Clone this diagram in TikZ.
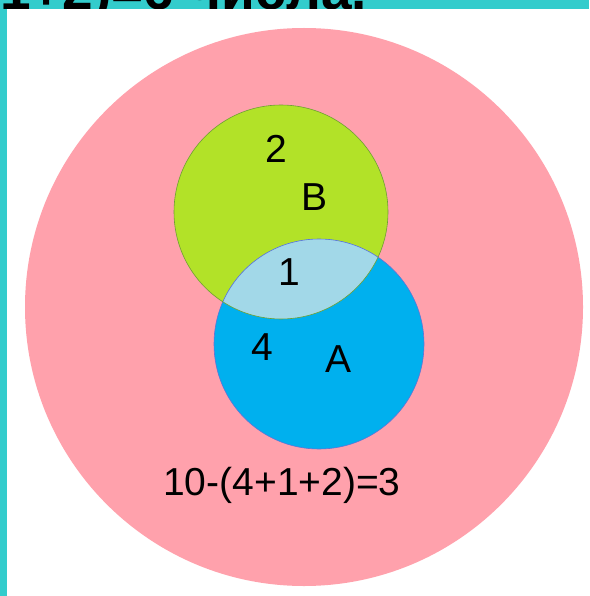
\documentclass[tikz,border=0pt]{standalone}
\usepackage{fontspec}
\setmainfont{Liberation Sans}
\usepackage{tikz}
\usetikzlibrary{positioning}

\definecolor{frameteal}{RGB}{51,204,204}
\definecolor{setU}{RGB}{255,161,172}
\definecolor{setB}{RGB}{178,226,40}
\definecolor{setA}{RGB}{0,176,238}
\definecolor{setAB}{RGB}{162,216,232}
\definecolor{lineB}{RGB}{110,160,50}
\definecolor{lineA}{RGB}{95,115,215}

\begin{document}
\begin{tikzpicture}[x=1pt, y=-1pt,
  lbl/.style={inner sep=0pt, anchor=base, font=\fontsize{39}{42}\selectfont},
  ring/.style={line width=0.6pt, draw=#1}]
  \useasboundingbox (0,0) rectangle (589,596);
  \clip (0,0) rectangle (589,596);
  % frame and cut-off title
  \fill[frameteal] (0,0) rectangle (589,596);
  \node[inner sep=0pt, anchor=base west, font=\fontsize{55}{60}\selectfont\bfseries] (title) at (0,9.5) {1+2)=6 числа.};
  \fill[white] (7,9) rectangle (589,596);
  % sets
  \coordinate (cU) at (304,307);
  \coordinate (cB) at (281,212);
  \coordinate (cA) at (319,344);
  \fill[setU] (cU) circle (279pt);
  \fill[setB] (cB) circle (107pt);
  \fill[setA] (cA) circle (105pt);
  \begin{scope}
    \clip (cB) circle (107pt);
    \fill[setAB] (cA) circle (105pt);
  \end{scope}
  \draw[ring=lineA] (cA) circle (105pt);
  \draw[ring=lineB] (cB) circle (107pt);
  % labels
  \node[lbl] (nB) at (276,162) {2};
  \node[lbl] (tB) at (315,210) {B};
  \node[lbl] (nAB) at (289,285) {1};
  \node[lbl] (nA) at (262,360) {4};
  \node[lbl] (tA) at (339,372) {A};
  \node[lbl] (rest) at (282,495) {10-(4+1+2)=3};
\end{tikzpicture}
\end{document}
